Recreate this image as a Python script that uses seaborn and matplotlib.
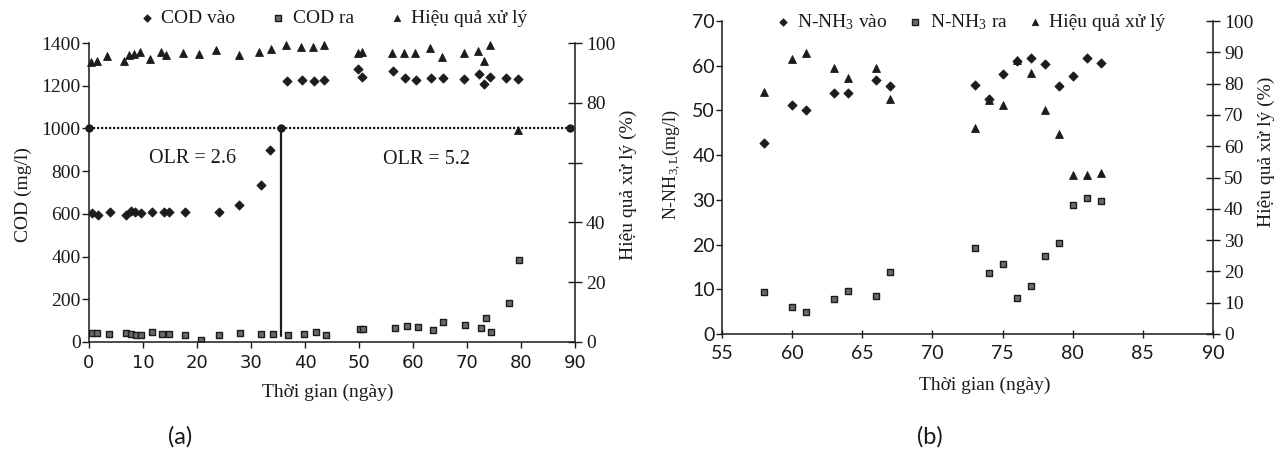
import matplotlib
matplotlib.use("Agg")
import matplotlib.pyplot as plt
import seaborn as sns

# ---------------- (a) COD, OLR 2.6 -> 5.2 ----------------
cod_in_day = [0.6, 1.7, 3.8, 6.8, 7.7, 8.6, 9.7, 11.7, 13.9, 14.8, 17.8, 24.0,
              27.8, 31.9, 33.6, 36.6, 39.5, 41.6, 43.6, 49.8, 50.6, 56.3, 58.6,
              60.6, 63.4, 65.5, 69.4, 72.2, 73.1, 74.3, 77.3, 79.4]
cod_in = [602, 595, 607, 595, 614, 610, 602, 610, 610, 610, 607, 607,
          641, 737, 897, 1220, 1227, 1220, 1227, 1278, 1243, 1267, 1235,
          1227, 1235, 1235, 1231, 1254, 1207, 1239, 1235, 1231]

cod_out_day = [0.6, 1.5, 3.7, 6.8, 7.7, 8.7, 9.6, 11.7, 13.6, 14.8, 17.8, 20.7,
               24.0, 28.0, 31.9, 34.0, 36.8, 39.9, 42.0, 43.9, 50.2, 50.7, 56.7,
               58.9, 60.9, 63.7, 65.5, 69.6, 72.5, 73.6, 74.5, 77.7, 79.6]
cod_out = [41, 41, 36, 44, 38, 33, 33, 46, 36, 36, 33, 10,
           33, 41, 36, 36, 33, 38, 46, 33, 61, 61, 67,
           75, 69, 57, 93, 79, 67, 113, 49, 182, 383]

cod_eff_day = [0.3, 1.5, 3.4, 6.5, 7.4, 8.3, 9.4, 11.3, 13.3, 14.3, 17.4, 20.3,
               23.5, 27.7, 31.5, 33.7, 36.5, 39.3, 41.4, 43.6, 49.8, 50.6, 56.2,
               58.4, 60.3, 63.2, 65.4, 69.4, 72.0, 73.1, 74.3, 79.5]
cod_eff = [93.7, 94.1, 95.8, 94.0, 96.0, 96.2, 97.1, 94.6, 96.9, 96.0, 96.6, 96.3,
           97.7, 96.0, 96.9, 97.9, 99.3, 98.8, 98.5, 99.2, 96.8, 97.1, 96.8,
           96.6, 96.8, 98.2, 95.4, 96.8, 97.3, 94.0, 99.3, 71.0]

# OLR switch marker: level line and day of the change
OLR_LEVEL = 1000
olr_days = [0, 35.5, 89]
olr_labels = ["OLR = 2.6", "OLR = 5.2"]
olr_label_pos = [(19.1, 858), (62.5, 853)]

# ---------------- (b) N-NH3 ----------------
nh_day = [58, 60, 61, 63, 64, 66, 67, 73, 74, 75, 76, 77, 78, 79, 80, 81, 82]
nh_in = [42.7, 51.2, 50.1, 53.8, 54.0, 56.8, 55.5, 55.6, 52.6, 58.2, 61.1,
         61.7, 60.4, 55.4, 57.6, 61.7, 60.6]
nh_out = [9.3, 6.0, 5.0, 7.8, 9.7, 8.6, 13.9, 19.3, 13.6, 15.7, 8.0,
          10.7, 17.4, 20.3, 28.9, 30.4, 29.8]
nh_eff = [77.3, 88.0, 89.8, 85.0, 81.8, 85.0, 75.1, 65.7, 74.7, 73.3, 87.4,
          83.4, 71.5, 63.9, 50.9, 50.9, 51.4]

cod_yticks = [0, 200, 400, 600, 800, 1000, 1200, 1400]
cod_xticks = [0, 10, 20, 30, 40, 50, 60, 70, 80, 90]
eff_a_ticks = [0, 20, 40, 60, 80, 100]
eff_a_labels = ["0", "20", "40", "", "80", "100"]
nh_xticks = [55, 60, 65, 70, 75, 80, 85, 90]
nh_yticks = [0, 10, 20, 30, 40, 50, 60, 70]
eff_b_ticks = [0, 10, 20, 30, 40, 50, 60, 70, 80, 90, 100]

# ---------------- style ----------------
sns.set_style("ticks")
plt.rcParams["font.family"] = ["Liberation Serif", "DejaVu Serif"]
plt.rcParams["mathtext.fontset"] = "custom"
plt.rcParams["mathtext.rm"] = "Liberation Serif"
plt.rcParams["mathtext.it"] = "Liberation Serif:italic"
plt.rcParams["axes.linewidth"] = 1.1
plt.rcParams["text.color"] = "#1a1a1a"
plt.rcParams["axes.edgecolor"] = "#1a1a1a"
plt.rcParams["xtick.color"] = "#1a1a1a"
plt.rcParams["ytick.color"] = "#1a1a1a"

INK = "#1c1c1c"
SQ_FACE = "#6a6a6a"
W, H = 1277, 450
fig = plt.figure(figsize=(W / 100, H / 100), dpi=100)
fig.patch.set_facecolor("white")


def box(x0, y0, x1, y1):
    return [x0 / W, 1 - y1 / H, (x1 - x0) / W, (y1 - y0) / H]


def ftext(x, y, s, **kw):
    fig.text(x / W, 1 - y / H, s, ha="center", va="center", **kw)


diamond = dict(marker="D", s=22, color=INK, edgecolor=INK, linewidth=0.6)
square = dict(marker="s", s=24, color=SQ_FACE, edgecolor=INK, linewidth=1.0)
triangle = dict(marker="^", s=32, color=INK, edgecolor=INK, linewidth=0.6)


def style_axes(ax, ax2):
    ax.spines["top"].set_visible(False)
    ax.spines["right"].set_visible(False)
    ax2.spines["top"].set_visible(False)
    ax2.spines["left"].set_visible(False)
    ax2.spines["bottom"].set_visible(False)
    ax.set_facecolor("none")
    ax2.set_facecolor("none")


# ---------------- panel (a) ----------------
axa = fig.add_axes(box(89, 43, 575, 342))
axa2 = axa.twinx()
style_axes(axa, axa2)

axa.plot(olr_days, [OLR_LEVEL] * len(olr_days), ls=(0, (1, 0.8)), color=INK,
         lw=1.6, marker="o", ms=5, clip_on=False, zorder=3)
axa.plot([olr_days[1], olr_days[1]], [OLR_LEVEL, 30], color=INK, lw=1.6, zorder=3)

sns.scatterplot(x=cod_in_day, y=cod_in, ax=axa, label="COD vào", legend=False, **diamond)
sns.scatterplot(x=cod_out_day, y=cod_out, ax=axa, label="COD ra", legend=False, **square)
sns.scatterplot(x=cod_eff_day, y=cod_eff, ax=axa2, label="Hiệu quả xử lý",
                legend=False, clip_on=False, **triangle)

for (tx, ty), s in zip(olr_label_pos, olr_labels):
    axa.text(tx, ty, s, ha="center", va="center", fontsize=14.5)

axa.set_xlim(0, 90)
axa.set_ylim(0, 1400)
axa2.set_ylim(0, 100)
axa.set_xticks(cod_xticks)
axa.set_xticklabels([str(t) for t in cod_xticks], fontfamily="DejaVu Sans", fontsize=13)
axa.set_yticks(cod_yticks)
axa.set_yticklabels([str(t) for t in cod_yticks], fontsize=14)
axa2.set_yticks(eff_a_ticks)
axa2.set_yticklabels(eff_a_labels, fontsize=14)
axa.tick_params(axis="y", direction="out", length=5, width=1, pad=1)
axa.tick_params(axis="x", direction="out", length=4, width=1, pad=5)
axa2.tick_params(axis="y", direction="inout", length=10, width=1, pad=3)
axa.set_xlabel("")
axa.set_ylabel("")

ha, la = axa.get_legend_handles_labels()
hb, lb = axa2.get_legend_handles_labels()
axa2.legend(ha + hb, la + lb, loc="center left",
            bbox_to_anchor=((139 - 89) / 486, (342 - 18) / 299), ncol=3,
            frameon=False, fontsize=14, handlelength=0.8, handletextpad=0.35,
            columnspacing=1.8, borderpad=0, borderaxespad=0, markerscale=0.8)

ftext(23, 195, "COD (mg/l)", rotation=90, fontsize=14)
ftext(628, 185, "Hiệu quả xử lý (%)", rotation=90, fontsize=14)
ftext(328, 392, "Thời gian (ngày)", fontsize=14)
ftext(180, 437, "(a)", fontsize=17, family=["Lato", "DejaVu Sans"])

# ---------------- panel (b) ----------------
axb = fig.add_axes(box(722, 21, 1213, 334))
axb2 = axb.twinx()
style_axes(axb, axb2)

sns.scatterplot(x=nh_day, y=nh_in, ax=axb, label="N-NH$_{\\mathregular{3}}$ vào",
                legend=False, **diamond)
sns.scatterplot(x=nh_day, y=nh_out, ax=axb, label="N-NH$_{\\mathregular{3}}$ ra",
                legend=False, **square)
sns.scatterplot(x=nh_day, y=nh_eff, ax=axb2, label="Hiệu quả xử lý",
                legend=False, clip_on=False, **triangle)

axb.set_xlim(55, 90)
axb.set_ylim(0, 70)
axb2.set_ylim(0, 100)
axb.set_xticks(nh_xticks)
axb.set_xticklabels([str(t) for t in nh_xticks], fontfamily="Lato", fontsize=14)
axb.set_yticks(nh_yticks)
axb.set_yticklabels([str(t) for t in nh_yticks], fontfamily="Lato", fontsize=14)
axb2.set_yticks(eff_b_ticks)
axb2.set_yticklabels([str(t) for t in eff_b_ticks], fontsize=14)
axb.tick_params(axis="y", direction="out", length=4, width=1, pad=1)
axb.tick_params(axis="x", direction="inout", length=6, width=1, pad=5)
axb2.tick_params(axis="y", direction="inout", length=10, width=1, pad=3)
axb.set_xlabel("")
axb.set_ylabel("")

ha, la = axb.get_legend_handles_labels()
hb, lb = axb2.get_legend_handles_labels()
axb2.legend(ha + hb, la + lb, loc="center left",
            bbox_to_anchor=((775 - 722) / 491, (334 - 22) / 313), ncol=3,
            frameon=False, fontsize=14, handlelength=0.8, handletextpad=0.35,
            columnspacing=1.0, borderpad=0, borderaxespad=0, markerscale=0.8)

ftext(672, 165, "N-NH$_{\\mathregular{3,L}}$(mg/l)", rotation=90, fontsize=13)
ftext(1266, 152, "Hiệu quả xử lý (%)", rotation=90, fontsize=14)
ftext(985, 385, "Thời gian (ngày)", fontsize=14)
ftext(930, 437, "(b)", fontsize=17, family=["Lato", "DejaVu Sans"])

fig.savefig("out.png", dpi=100, facecolor="white")
